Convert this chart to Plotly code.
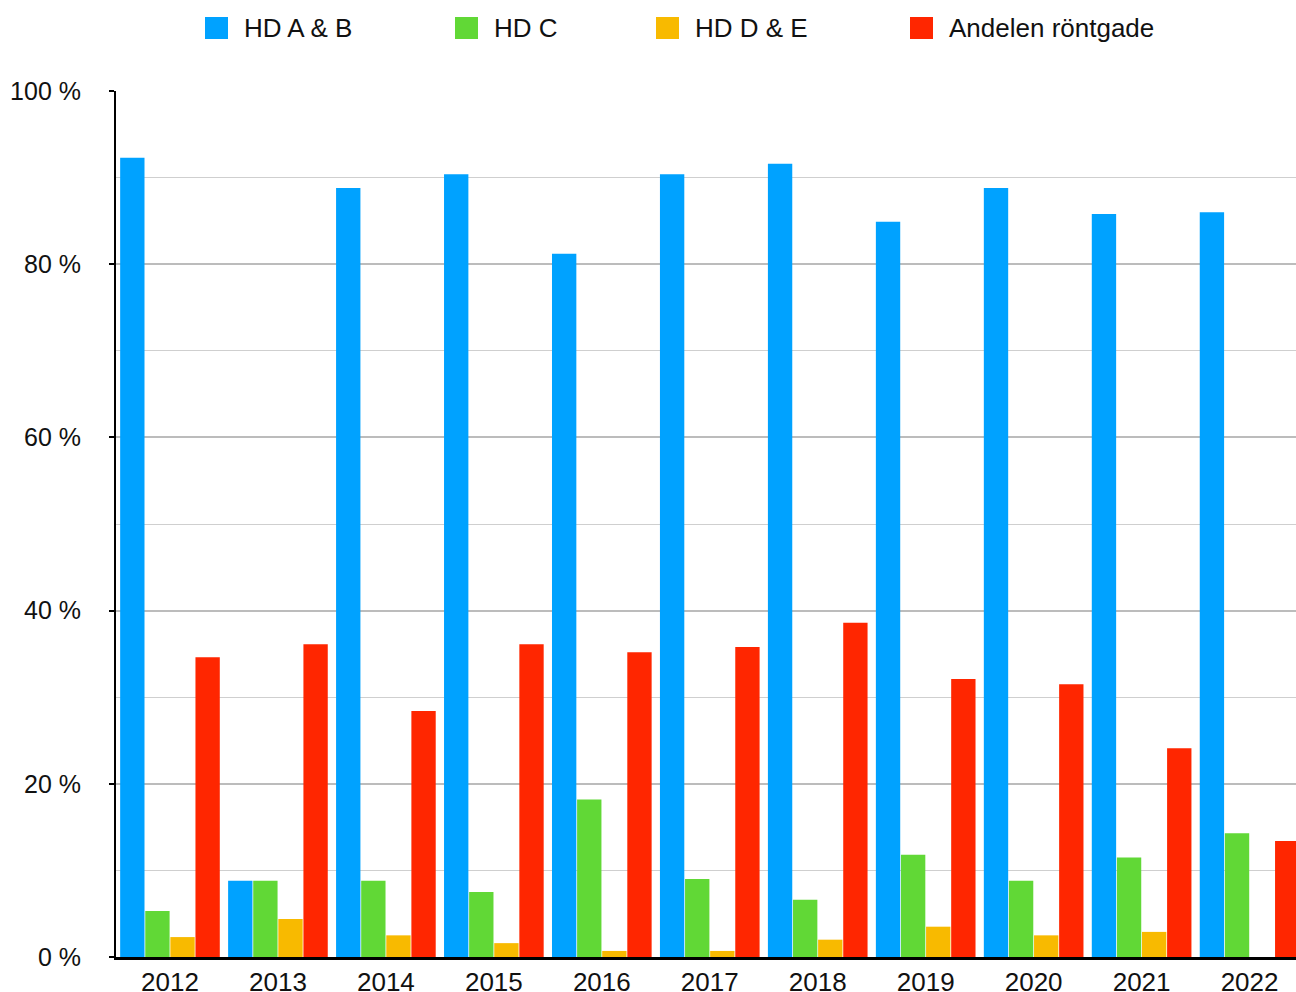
import plotly.graph_objects as go

# data
years = ["2012", "2013", "2014", "2015", "2016", "2017", "2018", "2019", "2020", "2021", "2022"]
hd_ab = [92.3, 8.8, 88.8, 90.4, 81.2, 90.4, 91.6, 84.9, 88.8, 85.8, 86.0]
hd_c = [5.3, 8.8, 8.8, 7.5, 18.2, 9.0, 6.6, 11.8, 8.8, 11.5, 14.3]
hd_de = [2.3, 4.4, 2.5, 1.6, 0.7, 0.7, 2.0, 3.5, 2.5, 2.9, 0.0]
rontgade = [34.6, 36.1, 28.4, 36.1, 35.2, 35.8, 38.6, 32.1, 31.5, 24.1, 13.4]

y_ticks = [0, 20, 40, 60, 80, 100]
y_ticktext = [f"{v} %" for v in y_ticks]

series = [
    ("HD A & B", hd_ab, "#00A2FF"),
    ("HD C", hd_c, "#61D836"),
    ("HD D & E", hd_de, "#F8BA00"),
    ("Andelen röntgade", rontgade, "#FF2600"),
]

W, H = 1296, 992
L, R, T, B = 116, 0, 91, 35
pw, ph = W - L - R, H - T - B

fig = go.Figure()
for name, vals, color in series:
    fig.add_trace(go.Bar(x=years, y=vals, name=name, marker_color=color,
                         marker_line_width=0, showlegend=False))

# legend drawn as squares + labels (pixel positions -> paper coords)
legend_x = [205, 455, 656, 910]
shapes = []
annotations = []
for (name, _, color), px in zip(series, legend_x):
    x0 = px - L
    shapes.append(dict(type="rect", xref="paper", yref="paper",
                       x0=x0 / pw, x1=(x0 + 23) / pw,
                       y0=(H - B - 39) / ph, y1=(H - B - 17) / ph,
                       fillcolor=color, line_width=0))
    annotations.append(dict(text=name, xref="paper", yref="paper",
                            x=(x0 + 37) / pw, y=(H - B - 28) / ph,
                            xanchor="left", yanchor="middle", showarrow=False,
                            font=dict(size=26, color="#111")))

fig.update_layout(
    width=W, height=H,
    barmode="group", bargap=0.07, bargroupgap=0.03,
    plot_bgcolor="white", paper_bgcolor="white",
    font=dict(family="Liberation Sans, Arial, sans-serif", size=26, color="#111"),
    margin=dict(l=L, r=R, t=T, b=B, autoexpand=False),
    shapes=shapes, annotations=annotations,
)
fig.update_xaxes(
    type="category", range=[-0.5, 10.43], showgrid=False,
    showline=True, linecolor="black", linewidth=3,
    ticks="", ticklabelstandoff=0, tickfont=dict(size=26),
)
fig.update_yaxes(
    range=[0, 100], tickvals=y_ticks, ticktext=y_ticktext,
    showgrid=True, gridcolor="#bcbcbc", gridwidth=2,
    minor=dict(dtick=10, showgrid=True, gridcolor="#cfcfcf", gridwidth=1),
    showline=True, linecolor="black", linewidth=2,
    ticks="outside", ticklen=5, tickcolor="black", tickwidth=2,
    ticklabelstandoff=23, tickfont=dict(size=25),
    zeroline=False,
)

# drop the default 8px body margin so the figure fills the window exactly
fig.write_html("out.html", config={"displayModeBar": False},
               post_script="document.body.style.margin='0';")
